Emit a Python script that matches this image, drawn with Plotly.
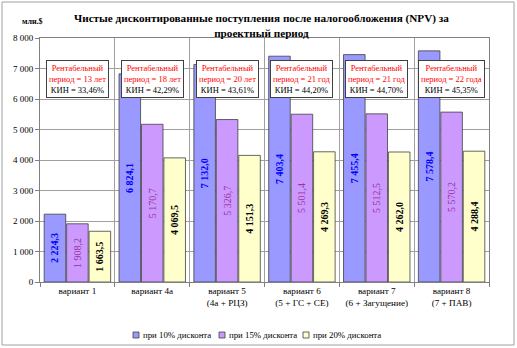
import plotly.graph_objects as go

categories = ["вариант 1", "вариант 4а", "вариант 5<br>(4а + РЦЗ)", "вариант 6<br>(5 + ГС + СЕ)",
              "вариант 7<br>(6 + Загущение)", "вариант 8<br>(7 + ПАВ)"]
series_names = ["при 10% дисконта", "при 15% дисконта", "при 20% дисконта"]
npv_10 = [2224.3, 6824.1, 7132.0, 7403.4, 7455.4, 7578.4]
npv_15 = [1908.2, 5170.7, 5326.7, 5501.4, 5512.5, 5570.2]
npv_20 = [1663.5, 4069.5, 4151.3, 4269.3, 4262.0, 4288.4]
payback = ["13 лет", "18 лет", "20 лет", "21 год", "21 год", "22 года"]
oil_recovery = ["33,46%", "42,29%", "43,61%", "44,20%", "44,70%", "45,35%"]
y_ticks = [0, 1000, 2000, 3000, 4000, 5000, 6000, 7000, 8000]
y_ticktext = ["0", "1 000", "2 000", "3 000", "4 000", "5 000", "6 000", "7 000", "8 000"]

FONT = "Liberation Serif, Times New Roman, serif"

# plot-area geometry (pixels) used to convert decorative positions to paper coords
L, R, T, B, W, H = 40, 28, 38, 66, 517, 348
PW, PH = W - L - R, H - T - B


def px(x):
    return (x - L) / PW


def py(y):
    return (H - B - y) / PH


def fmt(v):
    return f"{v:,.1f}".replace(",", " ").replace(".", ",")


series = [
    (npv_10, "#9999FF", "#0000FF", True),
    (npv_15, "#CC99FF", "#993399", False),
    (npv_20, "#FFFFCC", "#000000", True),
]

fig = go.Figure()
for (vals, fill, tcol, bold), name in zip(series, series_names):
    texts = [f"<b>{fmt(v)}</b>" if bold else fmt(v) for v in vals]
    fig.add_trace(go.Bar(
        x=categories, y=vals, name=name,
        marker=dict(color=fill, line=dict(color="#404040", width=0.8)),
        text=texts, textposition="inside", insidetextanchor="middle",
        textangle=-90, textfont=dict(family=FONT, size=10, color=tcol),
        showlegend=False,
    ))

for cat, pb, kin in zip(categories, payback, oil_recovery):
    fig.add_annotation(
        x=cat, y=6640, xref="x", yref="y",
        text=f"<span style='color:#FF0000'>Рентабельный<br>период = {pb}</span><br>КИН = {kin}",
        showarrow=False, font=dict(family=FONT, size=8.5, color="#000000"),
        bgcolor="#FFFFFF", bordercolor="#404040", borderwidth=1, borderpad=2,
        xanchor="center", yanchor="middle",
    )

fig.add_annotation(
    x=px(261), y=py(25), xref="paper", yref="paper",
    text="<b>Чистые дисконтированные поступления после налогообложения (NPV) за<br>проектный период</b>",
    showarrow=False, font=dict(family=FONT, size=11.2, color="#000000"),
    xanchor="center", yanchor="middle",
)
fig.add_annotation(
    x=px(32), y=py(22), xref="paper", yref="paper",
    text="<b>млн.$</b>", showarrow=False,
    font=dict(family=FONT, size=8, color="#000000"),
    xanchor="center", yanchor="middle",
)

# legend (drawn as small keys + text to match the compact Excel legend)
leg_x = [133, 219, 303]
leg_y = 335
for (vals, fill, tcol, bold), name, lx in zip(series, series_names, leg_x):
    fig.add_shape(type="rect", xref="paper", yref="paper",
                  x0=px(lx), x1=px(lx + 6), y0=py(leg_y + 3), y1=py(leg_y - 3),
                  line=dict(color="#404040", width=0.8), fillcolor=fill)
    fig.add_annotation(x=px(lx + 8), y=py(leg_y), xref="paper", yref="paper",
                       text=name, showarrow=False, xanchor="left", yanchor="middle",
                       font=dict(family=FONT, size=8.8, color="#000000"))

# outer chart frame
fig.add_shape(type="rect", xref="paper", yref="paper",
              x0=px(2), x1=px(514), y0=py(345), y1=py(2),
              line=dict(color="#A0A0A0", width=1), fillcolor="rgba(0,0,0,0)", layer="below")

fig.update_layout(
    width=W, height=H,
    margin=dict(l=L, r=R, t=T, b=B),
    paper_bgcolor="#FFFFFF", plot_bgcolor="#FFFFFF",
    barmode="group", bargap=0.1, bargroupgap=0.04,
    font=dict(family=FONT, size=9, color="#000000"),
    showlegend=False,
    uniformtext=dict(minsize=8, mode="show"),
)
fig.update_xaxes(
    tickson="boundaries", showgrid=True, gridcolor="#A0A0A0", gridwidth=1,
    ticks="outside", ticklen=4, tickcolor="#808080", tickangle=0,
    showline=True, linecolor="#808080", mirror=True,
    tickfont=dict(family=FONT, size=9.2),
)
fig.update_yaxes(
    range=[0, 8000], tickvals=y_ticks, ticktext=y_ticktext,
    showgrid=True, gridcolor="#A0A0A0", gridwidth=1,
    ticks="outside", ticklen=4, tickcolor="#808080",
    showline=True, linecolor="#808080", mirror=True, zeroline=False,
    tickfont=dict(family=FONT, size=9),
)

fig.write_html("out.html")
